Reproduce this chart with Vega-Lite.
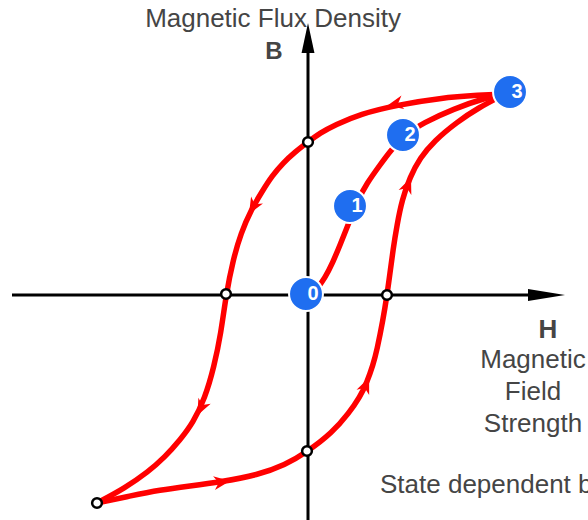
{
  "$schema": "https://vega.github.io/schema/vega-lite/v6.json",
  "width": 588,
  "height": 520,
  "padding": 0,
  "autosize": {"type": "fit", "contains": "padding"},
  "background": "white",
  "config": {"view": {"stroke": null}},
  "datasets": {
    "axes": [
      {"axis": "H", "H": -2.96, "B": 0},
      {"axis": "H", "H": 2.22, "B": 0},
      {"axis": "B", "H": 0, "B": -2.3},
      {"axis": "B", "H": 0, "B": 2.42}
    ],
    "curves": [
      {"branch": "descending", "i": 1, "H": 1.97, "B": 2.01},
      {"branch": "descending", "i": 2, "H": 1.72, "B": 2.0},
      {"branch": "descending", "i": 3, "H": 1.32, "B": 1.97},
      {"branch": "descending", "i": 4, "H": 0.89, "B": 1.9},
      {"branch": "descending", "i": 5, "H": 0.52, "B": 1.81},
      {"branch": "descending", "i": 6, "H": 0.27, "B": 1.7},
      {"branch": "descending", "i": 7, "H": 0.12, "B": 1.62},
      {"branch": "descending", "i": 8, "H": 0.0, "B": 1.53},
      {"branch": "descending", "i": 9, "H": -0.13, "B": 1.43},
      {"branch": "descending", "i": 10, "H": -0.25, "B": 1.32},
      {"branch": "descending", "i": 11, "H": -0.36, "B": 1.19},
      {"branch": "descending", "i": 12, "H": -0.45, "B": 1.05},
      {"branch": "descending", "i": 13, "H": -0.57, "B": 0.85},
      {"branch": "descending", "i": 14, "H": -0.67, "B": 0.62},
      {"branch": "descending", "i": 15, "H": -0.75, "B": 0.35},
      {"branch": "descending", "i": 16, "H": -0.82, "B": 0.0},
      {"branch": "descending", "i": 17, "H": -0.87, "B": -0.38},
      {"branch": "descending", "i": 18, "H": -0.94, "B": -0.72},
      {"branch": "descending", "i": 19, "H": -1.03, "B": -1.03},
      {"branch": "descending", "i": 20, "H": -1.15, "B": -1.28},
      {"branch": "descending", "i": 21, "H": -1.28, "B": -1.45},
      {"branch": "descending", "i": 22, "H": -1.43, "B": -1.62},
      {"branch": "descending", "i": 23, "H": -1.6, "B": -1.77},
      {"branch": "descending", "i": 24, "H": -1.83, "B": -1.93},
      {"branch": "descending", "i": 25, "H": -2.11, "B": -2.08},
      {"branch": "ascending", "i": 1, "H": -2.11, "B": -2.08},
      {"branch": "ascending", "i": 2, "H": -1.78, "B": -2.01},
      {"branch": "ascending", "i": 3, "H": -1.48, "B": -1.95},
      {"branch": "ascending", "i": 4, "H": -1.18, "B": -1.91},
      {"branch": "ascending", "i": 5, "H": -0.88, "B": -1.87},
      {"branch": "ascending", "i": 6, "H": -0.5, "B": -1.8},
      {"branch": "ascending", "i": 7, "H": -0.23, "B": -1.7},
      {"branch": "ascending", "i": 8, "H": -0.01, "B": -1.57},
      {"branch": "ascending", "i": 9, "H": 0.24, "B": -1.38},
      {"branch": "ascending", "i": 10, "H": 0.41, "B": -1.18},
      {"branch": "ascending", "i": 11, "H": 0.52, "B": -1.02},
      {"branch": "ascending", "i": 12, "H": 0.59, "B": -0.87},
      {"branch": "ascending", "i": 13, "H": 0.65, "B": -0.7},
      {"branch": "ascending", "i": 14, "H": 0.69, "B": -0.55},
      {"branch": "ascending", "i": 15, "H": 0.75, "B": -0.25},
      {"branch": "ascending", "i": 16, "H": 0.79, "B": 0.0},
      {"branch": "ascending", "i": 17, "H": 0.82, "B": 0.22},
      {"branch": "ascending", "i": 18, "H": 0.85, "B": 0.45},
      {"branch": "ascending", "i": 19, "H": 0.89, "B": 0.7},
      {"branch": "ascending", "i": 20, "H": 0.94, "B": 0.95},
      {"branch": "ascending", "i": 21, "H": 1.02, "B": 1.18},
      {"branch": "ascending", "i": 22, "H": 1.12, "B": 1.37},
      {"branch": "ascending", "i": 23, "H": 1.26, "B": 1.54},
      {"branch": "ascending", "i": 24, "H": 1.49, "B": 1.73},
      {"branch": "ascending", "i": 25, "H": 1.7, "B": 1.87},
      {"branch": "ascending", "i": 26, "H": 1.97, "B": 2.01},
      {"branch": "initial", "i": 1, "H": 0.08, "B": 0.05},
      {"branch": "initial", "i": 2, "H": 0.17, "B": 0.17},
      {"branch": "initial", "i": 3, "H": 0.25, "B": 0.33},
      {"branch": "initial", "i": 4, "H": 0.32, "B": 0.5},
      {"branch": "initial", "i": 5, "H": 0.42, "B": 0.75},
      {"branch": "initial", "i": 6, "H": 0.5, "B": 0.95},
      {"branch": "initial", "i": 7, "H": 0.59, "B": 1.12},
      {"branch": "initial", "i": 8, "H": 0.72, "B": 1.3},
      {"branch": "initial", "i": 9, "H": 0.83, "B": 1.45},
      {"branch": "initial", "i": 10, "H": 0.97, "B": 1.6},
      {"branch": "initial", "i": 11, "H": 1.15, "B": 1.72},
      {"branch": "initial", "i": 12, "H": 1.45, "B": 1.86},
      {"branch": "initial", "i": 13, "H": 1.8, "B": 1.98},
      {"branch": "initial", "i": 14, "H": 1.97, "B": 2.01}
    ],
    "chevrons": [
      {"H": 0.87, "B": 1.91, "dir": 168},
      {"H": -0.55, "B": 0.88, "dir": 120},
      {"H": -1.07, "B": -1.13, "dir": 116},
      {"H": -0.86, "B": -1.87, "dir": 352},
      {"H": 0.58, "B": -0.9, "dir": 293},
      {"H": 1.0, "B": 1.1, "dir": 292}
    ],
    "open": [
      {"H": 0.0, "B": 1.53},
      {"H": -0.82, "B": 0.01},
      {"H": 0.79, "B": 0.0},
      {"H": -0.01, "B": -1.56},
      {"H": -2.11, "B": -2.08}
    ],
    "states": [
      {"H": -0.02, "B": 0.01, "label": "0"},
      {"H": 0.42, "B": 0.89, "label": "1"},
      {"H": 0.95, "B": 1.6, "label": "2"},
      {"H": 2.02, "B": 2.03, "label": "3"}
    ],
    "texts": [
      {"H": -0.35, "B": 2.68, "text": "Magnetic Flux Density"},
      {"H": 2.25, "B": -0.73, "text": "Magnetic"},
      {"H": 2.25, "B": -1.05, "text": "Field"},
      {"H": 2.25, "B": -1.37, "text": "Strength"}
    ],
    "note": [
      {"H": 0.72, "B": -1.98, "text": "State dependent behavior"}
    ],
    "symbols": [
      {"H": -0.34, "B": 2.36, "text": "B", "size": 24},
      {"H": 2.4, "B": -0.43, "text": "H", "size": 26}
    ]
  },
  "encoding": {
    "x": {"field": "H", "type": "quantitative", "scale": {"domain": [-3.08, 2.8], "nice": false, "zero": false}, "axis": null},
    "y": {"field": "B", "type": "quantitative", "scale": {"domain": [-2.25, 2.95], "nice": false, "zero": false}, "axis": null}
  },
  "layer": [
    {
      "data": {"name": "axes"},
      "mark": {"type": "line", "stroke": "black", "strokeWidth": 3, "clip": true},
      "encoding": {"detail": {"field": "axis"}}
    },
    {
      "data": {"values": [{"H": 2.385, "B": 0}]},
      "mark": {"type": "point", "shape": "M -1 -0.33 L 1 0 L -1 0.33 Z", "size": 1369, "filled": true, "color": "black", "opacity": 1}
    },
    {
      "data": {"values": [{"H": 0, "B": 2.57}]},
      "mark": {"type": "point", "shape": "M -0.43 1 L 0 -1 L 0.43 1 Z", "size": 900, "filled": true, "color": "black", "opacity": 1}
    },
    {
      "data": {"name": "curves"},
      "mark": {"type": "line", "stroke": "#ff0000", "strokeWidth": 5.5, "interpolate": "basis", "strokeCap": "round"},
      "encoding": {"detail": {"field": "branch"}, "order": {"field": "i", "type": "quantitative"}}
    },
    {
      "data": {"name": "chevrons"},
      "mark": {"type": "point", "shape": "M 1 0 L -1 -0.85 L -0.4 0 L -1 0.85 Z", "size": 260, "filled": true, "color": "#ff0000", "opacity": 1},
      "encoding": {"angle": {"field": "dir", "type": "quantitative", "scale": null}}
    },
    {
      "data": {"name": "open"},
      "mark": {"type": "circle", "size": 95, "fill": "white", "stroke": "black", "strokeWidth": 2.5, "opacity": 1}
    },
    {
      "data": {"name": "states"},
      "mark": {"type": "circle", "size": 1150, "fill": "#1f6ef0", "stroke": "white", "strokeWidth": 2, "opacity": 1}
    },
    {
      "data": {"name": "states"},
      "mark": {"type": "text", "dx": 7, "baseline": "middle", "align": "center", "font": "Liberation Sans", "fontSize": 20, "fontWeight": "bold", "color": "white"},
      "encoding": {"text": {"field": "label"}}
    },
    {
      "data": {"name": "texts"},
      "mark": {"type": "text", "baseline": "alphabetic", "align": "center", "font": "Liberation Sans", "fontSize": 26, "color": "#454545", "clip": true},
      "encoding": {"text": {"field": "text"}}
    },
    {
      "data": {"name": "note"},
      "mark": {"type": "text", "baseline": "alphabetic", "align": "left", "font": "Liberation Sans", "fontSize": 26, "color": "#454545", "clip": true},
      "encoding": {"text": {"field": "text"}}
    },
    {
      "data": {"name": "symbols"},
      "mark": {"type": "text", "baseline": "alphabetic", "align": "center", "font": "Liberation Sans", "fontWeight": "bold", "color": "#454545", "clip": true},
      "encoding": {"text": {"field": "text"}, "size": {"field": "size", "type": "quantitative", "scale": null}}
    }
  ]
}
